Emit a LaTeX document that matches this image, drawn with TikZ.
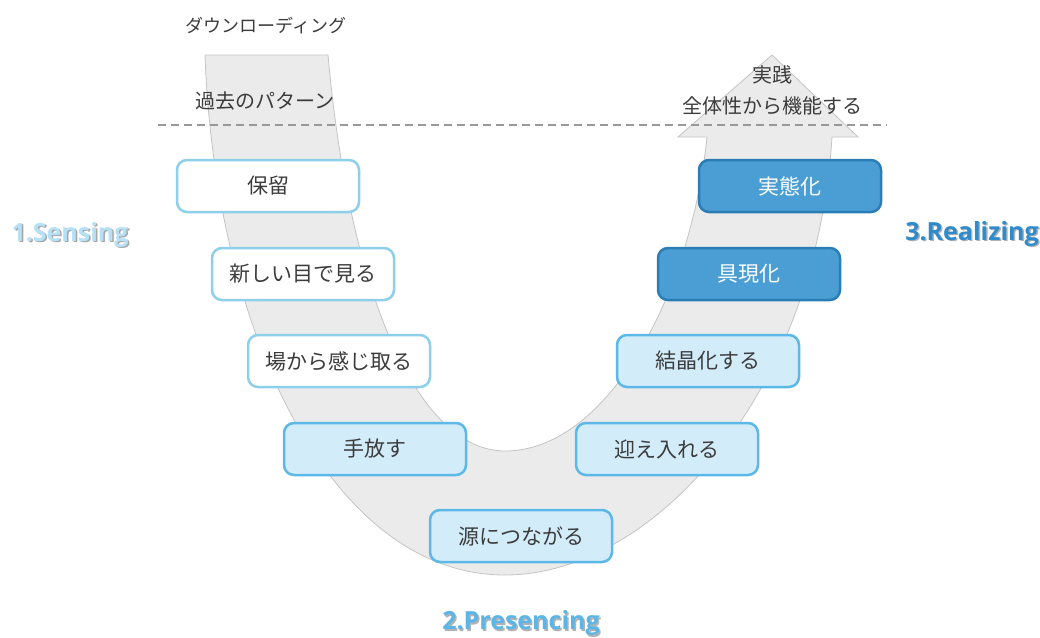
\documentclass[tikz,border=0pt]{standalone}
\usepackage{fontspec}
\setmainfont{Noto Sans CJK JP}
\newfontfamily\labfont{Open Sans}
\definecolor{bandfill}{HTML}{EBEBEB}
\definecolor{bandedge}{HTML}{C4C4C4}
\definecolor{wborder}{HTML}{8ECFEA}
\definecolor{lfill}{HTML}{D2ECFA}
\definecolor{lborder}{HTML}{5CB8E6}
\definecolor{dfill}{HTML}{4A9ED4}
\definecolor{dborder}{HTML}{2B7DB6}
\definecolor{txt}{HTML}{3C3C3C}
\definecolor{senscol}{HTML}{B6E0F5}
\definecolor{prescol}{HTML}{5BB6E8}
\definecolor{realcol}{HTML}{2F8BCB}
\tikzset{
  stagebox/.style={rounded corners=10pt, line width=2.5pt, minimum width=182pt, minimum height=52pt,
    font=\fontsize{21}{25}\selectfont, inner sep=0pt},
  whitebox/.style={stagebox, draw=wborder, fill=white, text=txt},
  lightbox/.style={stagebox, draw=lborder, fill=lfill, text=txt},
  darkbox/.style={stagebox, draw=dborder, fill=dfill, text=white},
  toptext/.style={font=\fontsize{20}{24}\selectfont, text=txt, inner sep=0pt},
  phase/.style={font=\labfont\bfseries\fontsize{25}{28}\selectfont, inner sep=0pt},
}
\begin{document}
\begin{tikzpicture}[x=1pt,y=-1pt]
\useasboundingbox (0,0) rectangle (1040,637);
% U-shaped band with arrow
\filldraw[fill=bandfill, draw=bandedge, line width=0.8pt]
  (205,55) .. controls (215,330) and (330,575) .. (505,575)
  .. controls (650,575) and (815,400) .. (832,137)
  -- (858,137) -- (772,55) -- (678,137) -- (707,137)
  .. controls (690,300) and (605,451) .. (505,451)
  .. controls (420,451) and (350,300) .. (328,55)
  -- cycle;
% dashed line
\coordinate (dl) at (158,125);
\coordinate (dr) at (887,125);
\draw[dashed, dash pattern=on 8pt off 5pt, line width=2pt, color=black!40] (dl) -- (dr);
% top texts
\node[toptext, font=\fontsize{18}{22}\selectfont] (dl1) at (266,26) {ダウンローディング};
\node[toptext] (pp) at (265,101) {過去のパターン};
\node[toptext] (jis) at (772,75) {実践};
\node[toptext] (zen) at (772,106) {全体性から機能する};
% boxes
\node[whitebox] (b1) at (268,186) {保留};
\node[whitebox] (b2) at (303,274) {新しい目で見る};
\node[whitebox] (b3) at (339,361) {場から感じ取る};
\node[lightbox] (b4) at (375,449) {手放す};
\node[lightbox] (b5) at (521,536) {源につながる};
\node[lightbox] (b6) at (667,449) {迎え入れる};
\node[lightbox] (b7) at (708,361) {結晶化する};
\node[darkbox]  (b8) at (749,274) {具現化};
\node[darkbox]  (b9) at (790,186) {実態化};
% phase labels with shadow
\node[phase, text=black!35] at (71.5,236.5) {1.Sensing};
\node[phase, text=senscol] (s1) at (70,235) {1.Sensing};
\node[phase, text=black!30] at (522.5,624.5) {2.Presencing};
\node[phase, text=prescol] (s2) at (521,623) {2.Presencing};
\node[phase, text=black!30] at (973.5,235.5) {3.Realizing};
\node[phase, text=realcol] (s3) at (972,234) {3.Realizing};
\end{tikzpicture}
\end{document}
